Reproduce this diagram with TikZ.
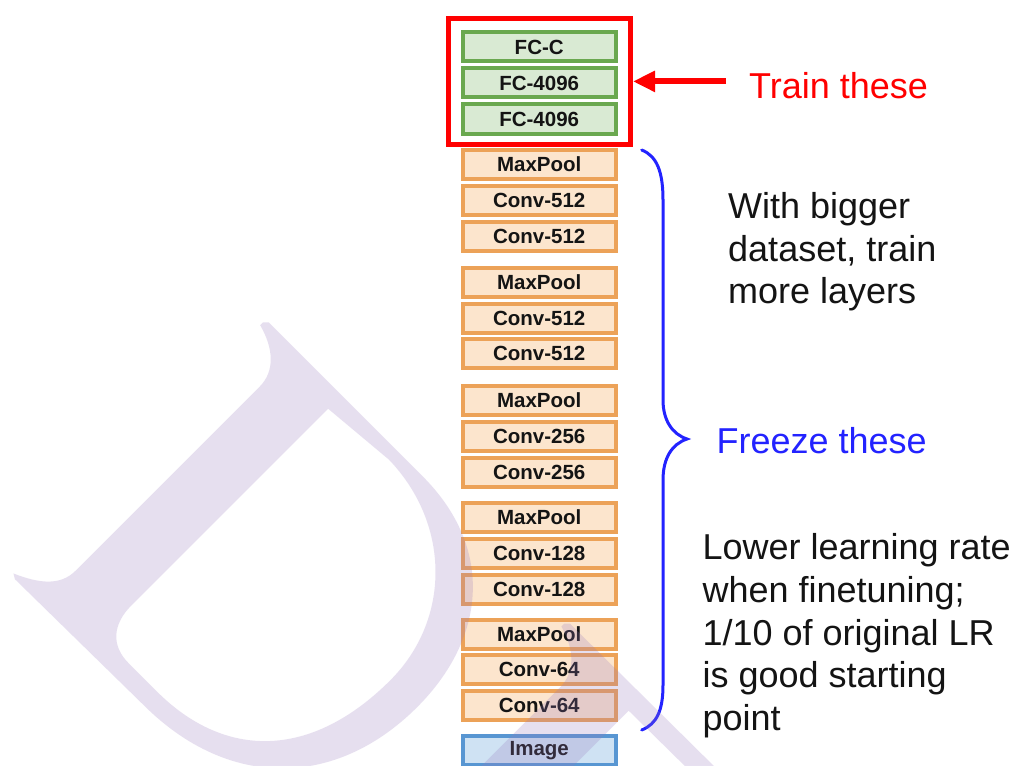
\documentclass[tikz,border=0pt]{standalone}
\usepackage{fontspec}
\setmainfont{Liberation Sans}
\usetikzlibrary{arrows.meta}

\definecolor{fcfill}{RGB}{217,234,211}
\definecolor{fcline}{RGB}{106,168,79}
\definecolor{cvfill}{RGB}{252,229,205}
\definecolor{cvline}{RGB}{236,162,88}
\definecolor{imfill}{RGB}{207,226,243}
\definecolor{imline}{RGB}{88,150,210}
\definecolor{bracecol}{RGB}{35,35,255}
\definecolor{wmark}{RGB}{150,120,190}
\definecolor{ink}{RGB}{20,20,20}

\begin{document}
\begin{tikzpicture}[x=1pt,y=-1pt,
  layer/.style={draw, line width=4pt, minimum width=153pt, minimum height=29pt,
    inner sep=0pt, text=ink, font=\fontsize{20.5}{24}\selectfont\bfseries},
  fc/.style={layer, draw=fcline, fill=fcfill},
  conv/.style={layer, draw=cvline, fill=cvfill},
  input/.style={layer, draw=imline, fill=imfill},
  frame/.style={draw=red, line width=5pt, minimum width=182pt,
    minimum height=125.7pt, inner sep=0pt},
  note/.style={anchor=base west, inner sep=0pt,
    font=\fontsize{36}{42.6}\selectfont},
  wm/.style={fill=wmark, fill opacity=0.23, even odd rule,
    x={(0.7071pt,-0.7071pt)}, y={(0.7071pt,0.7071pt)}},
]
\useasboundingbox (0,0) rectangle (1019,765);
\clip (0,0) rectangle (1019,765);
\fill[white] (0,0) rectangle (1019,765);

% fully connected head
\node[fc] (fcc) at (539.2,47) {FC-C};
\node[fc] (fc2) at (539.2,83) {FC-4096};
\node[fc] (fc1) at (539.2,119) {FC-4096};

% convolutional blocks
\node[conv] (p5)  at (539.2,164) {MaxPool};
\node[conv] (c52) at (539.2,200) {Conv-512};
\node[conv] (c51) at (539.2,236) {Conv-512};

\node[conv] (p4)  at (539.2,282) {MaxPool};
\node[conv] (c42) at (539.2,318) {Conv-512};
\node[conv] (c41) at (539.2,353.5) {Conv-512};

\node[conv] (p3)  at (539.2,400) {MaxPool};
\node[conv] (c32) at (539.2,436) {Conv-256};
\node[conv] (c31) at (539.2,472) {Conv-256};

\node[conv] (p2)  at (539.2,517) {MaxPool};
\node[conv] (c22) at (539.2,553) {Conv-128};
\node[conv] (c21) at (539.2,589) {Conv-128};

\node[conv] (p1)  at (539.2,634) {MaxPool};
\node[conv] (c12) at (539.2,669.5) {Conv-64};
\node[conv] (c11) at (539.2,705) {Conv-64};

\node[input] (img) at (539.2,750.8) {Image};

% trainable part
\node[frame] (train) at (539.5,81.4) {};
\coordinate (tail) at (726,81.4);
\draw[red, line width=6pt, -{Triangle[length=22pt,width=20pt]}] (tail) -- (train.east);
\node[note, text=red] (trainlbl) at (749,99) {Train these};

% frozen part
\draw[bracecol, line width=3pt, line cap=round]
  (641.7,150) .. controls (657,156) and (663,172) .. (663,200)
  -- (663,400) .. controls (663,420) and (672,434) .. (687,439)
  .. controls (672,444) and (663,458) .. (663,480)
  -- (663,685) .. controls (663,710) and (657,724) .. (641.7,730);
\node[note, text=bracecol] (freeze) at (716.4,453) {Freeze these};

\node[note, text=ink] (bigger) at (728,218.5)
  {\begin{tabular}[t]{@{}l@{}}With bigger\\dataset, train\\more layers\end{tabular}};
\node[note, text=ink] (lower) at (702.4,559.8)
  {\begin{tabular}[t]{@{}l@{}}Lower learning rate\\when finetuning;\\1/10 of original LR\\is good starting\\point\end{tabular}};

% background lettering
\fill[wm]
  (414,-42) -- (418,-38) -- (640,-38)
  .. controls (740,-40) and (795,-110) .. (795,-205)
  .. controls (795,-320) and (720,-397) .. (600,-397)
  -- (420,-399) -- (415,-396)
  .. controls (440,-385) and (457,-372) .. (457,-350)
  -- (457,-90) .. controls (457,-68) and (440,-53) .. (414,-46) -- cycle
  (521,-57) -- (600,-50)
  .. controls (690,-52) and (757,-120) .. (757,-205)
  .. controls (757,-318) and (695,-378) .. (600,-378)
  -- (560,-378) .. controls (535,-378) and (521,-362) .. (521,-335) -- cycle;
\fill[wm]
  (840,-42) -- (844,-38) -- (1200,-36) -- (1200,-56) -- (947,-58)
  -- (947,-520) -- (882,-520) -- (882,-90)
  .. controls (882,-68) and (865,-53) .. (840,-46) -- cycle;
\end{tikzpicture}
\end{document}
